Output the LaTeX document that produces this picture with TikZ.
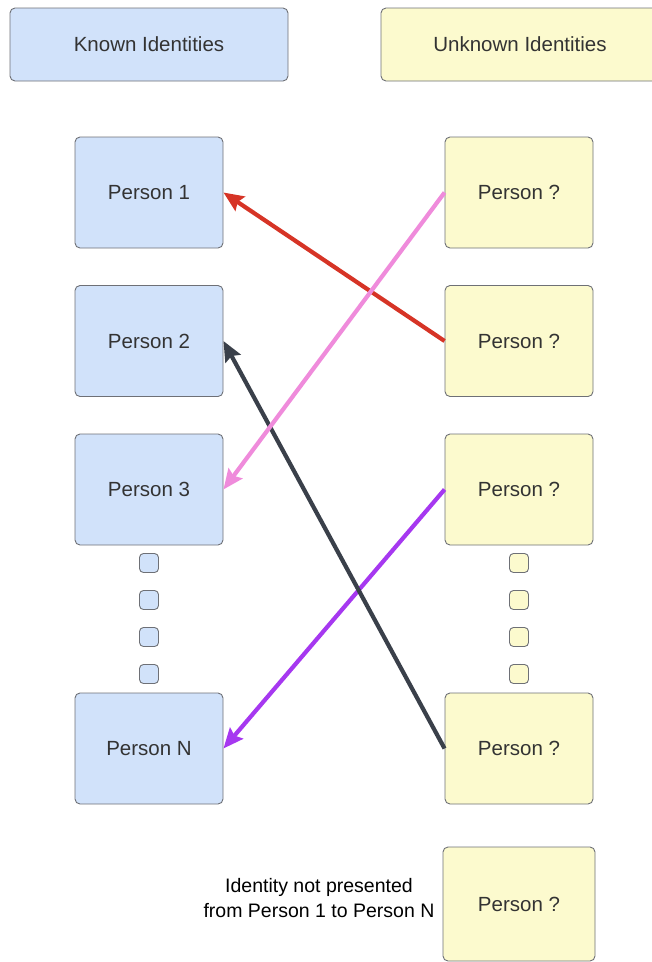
\documentclass[tikz,border=0pt]{standalone}
\usepackage{fontspec}
\setmainfont{Liberation Sans}
\usetikzlibrary{arrows.meta}
\definecolor{knownfill}{RGB}{209,226,250}
\definecolor{unknownfill}{RGB}{252,250,206}
\definecolor{boxline}{RGB}{110,112,118}
\definecolor{boxtext}{RGB}{51,51,51}
\definecolor{redlink}{RGB}{214,52,38}
\definecolor{pinklink}{RGB}{239,139,219}
\definecolor{darklink}{RGB}{58,64,74}
\definecolor{purplelink}{RGB}{166,56,240}
\begin{document}
\begin{tikzpicture}[x=1pt,y=-1pt,
    box/.style={draw=boxline,line width=0.9pt,rounded corners=5pt,text=boxtext,
        font=\fontsize{20.5}{24}\selectfont,minimum width=148pt,minimum height=111pt,inner sep=0pt},
    known/.style={box,fill=knownfill},
    unknown/.style={box,fill=unknownfill},
    header/.style={minimum width=278pt,minimum height=73pt},
    dotbox/.style={draw=boxline,line width=0.9pt,rounded corners=4pt,minimum size=19pt,inner sep=0pt},
    link/.style={line width=4.2pt,-{Stealth[length=20pt,width=17pt,inset=3pt]}}]
    \clip (0,0) rectangle (652,962);
    \node[known,header] (knownhead) at (149,44.5) {Known Identities};
    \node[unknown,header] (unknownhead) at (520,44.5) {Unknown Identities};
    % known column
    \node[known] (p1) at (149,192.5) {Person 1};
    \node[known] (p2) at (149,341) {Person 2};
    \node[known] (p3) at (149,489.5) {Person 3};
    \node[known] (pn) at (149,748.5) {Person N};
    % unknown column
    \node[unknown] (u1) at (519,192.5) {Person ?};
    \node[unknown] (u2) at (519,341) {Person ?};
    \node[unknown] (u3) at (519,489.5) {Person ?};
    \node[unknown] (u4) at (519,748.5) {Person ?};
    \node[unknown,minimum width=152pt,minimum height=114pt] (u5) at (519,904) {Person ?};
    \foreach \y [count=\i] in {563,600,637,674} {
        \node[dotbox,fill=knownfill] (kdot\i) at (149,\y) {};
        \node[dotbox,fill=unknownfill] (udot\i) at (519,\y) {};
    }
    \node[align=center,font=\fontsize{19.5}{25}\selectfont] (note) at (319,898)
        {Identity not presented\\from Person 1 to Person N};
    % links
    \draw[link,redlink] (u2.west) -- (p1.east);
    \draw[link,purplelink] (u3.west) -- (pn.east);
    \draw[link,darklink] (u4.west) -- (p2.east);
    \draw[link,pinklink] (u1.west) -- (p3.east);
\end{tikzpicture}
\end{document}
